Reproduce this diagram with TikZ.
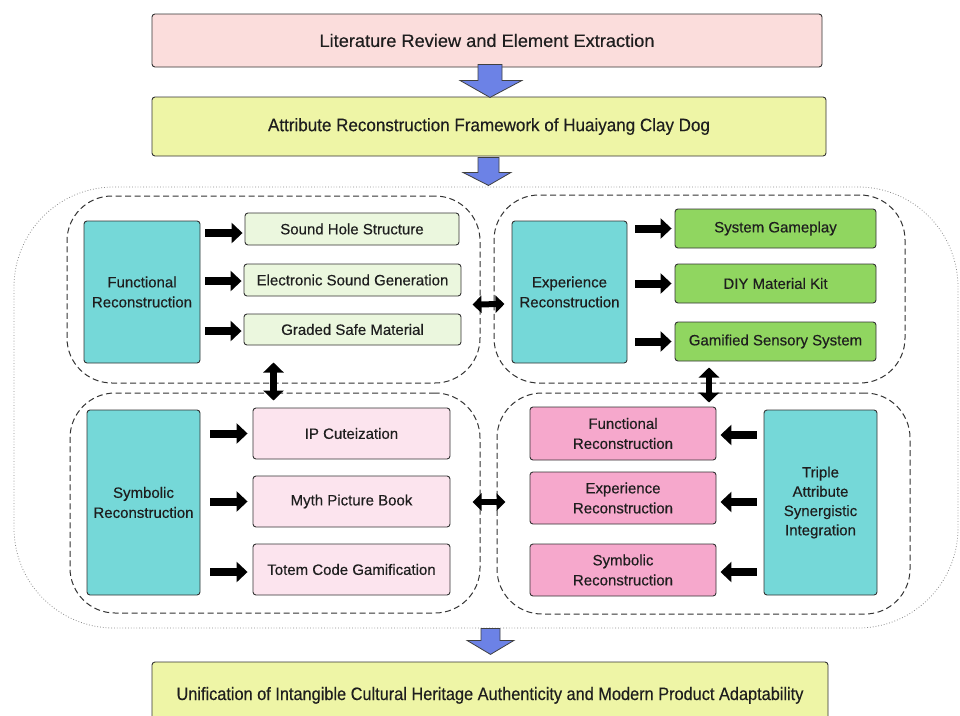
\documentclass[tikz,border=0pt]{standalone}
\usepackage{fontspec}
\setmainfont{Liberation Sans}[FakeBold=0.35]
\usetikzlibrary{arrows.meta,calc}
\definecolor{toppink}{HTML}{FBDDDC}
\definecolor{ylw}{HTML}{EEF5A6}
\definecolor{tealbox}{HTML}{75D8D8}
\definecolor{lgreen}{HTML}{EBF7DE}
\definecolor{greenbox}{HTML}{90D660}
\definecolor{lpink}{HTML}{FCE4EE}
\definecolor{pinkbox}{HTML}{F6A8CC}
\definecolor{bluearr}{HTML}{6C82E6}
\definecolor{edge}{HTML}{333333}
\definecolor{txt}{HTML}{1E1E1E}
\begin{document}
\begin{tikzpicture}[x=1pt,y=-1pt,
  box/.style={draw=edge, line width=0.9pt, rounded corners=3pt, inner sep=0pt, align=center, text=txt, font=\fontsize{15}{20}\selectfont},
  title/.style={box, font=\fontsize{18}{20}\selectfont},
  tealb/.style={box, fill=tealbox, font=\fontsize{15}{20}\selectfont},
  region/.style={draw=black!80, line width=1pt, dash pattern=on 6pt off 3.5pt, rounded corners=45pt, inner sep=0pt},
  outer/.style={draw=black!45, line width=0.8pt, dotted, rounded corners=100pt, inner sep=0pt},
  blk/.style={line width=8pt, -{Triangle[length=11pt,width=20pt]}, black},
  dbl/.style={line width=6pt, {Triangle[length=9pt,width=17pt]}-{Triangle[length=9pt,width=17pt]}, black},
  dblv/.style={line width=6.5pt, {Triangle[length=10pt,width=20pt]}-{Triangle[length=10pt,width=20pt]}, black},
  blueshape/.style={draw=black!75, line width=0.8pt, fill=bluearr, line join=miter}
]
\clip (0,0) rectangle (960,715);
\fill[white] (0,0) rectangle (960,715);

% titles
\node[title, fill=toppink, minimum width=670pt, minimum height=53pt] (top) at (487,40.5)
  {\resizebox{335pt}{\height}{Literature Review and Element Extraction}};
\node[title, fill=ylw, minimum width=674pt, minimum height=59pt] (mid) at (489,126.5)
  {\resizebox{442pt}{\height}{Attribute Reconstruction Framework of Huaiyang Clay Dog}};
\node[title, fill=ylw, minimum width=676pt, minimum height=70pt] (bot) at (490,697)
  {\raisebox{7pt}{\resizebox{627pt}{\height}{Unification of Intangible Cultural Heritage Authenticity and Modern Product Adaptability}}};

% outer dotted region and dashed regions
\node[outer, minimum width=944pt, minimum height=441pt] (OUT) at (486,407.5) {};
\node[region, minimum width=413pt, minimum height=187pt] (TL) at (273.5,289.5) {};
\node[region, minimum width=411pt, minimum height=188pt] (TR) at (699.5,289) {};
\node[region, minimum width=410pt, minimum height=220pt] (BL) at (275,503) {};
\node[region, minimum width=413pt, minimum height=221pt] (BR) at (703.5,503.5) {};

% blue arrows
\draw[blueshape] ($(top.south)+(-9,-3)$) -- ++(24,0) -- ++(0,16) -- ++(20,0) -- ++(-32,17) -- ++(-30,-17) -- ++(18,0) -- cycle;
\draw[blueshape] ($(mid.south)+(-11,1)$) -- ++(21,0) -- ++(0,15) -- ++(12,0) -- ++(-22.5,13) -- ++(-25.5,-13) -- ++(15,0) -- cycle;
\draw[blueshape] ($(OUT.south)+(-5,0)$) -- ++(19,0) -- ++(0,12) -- ++(14,0) -- ++(-23.5,14) -- ++(-23.5,-14) -- ++(14,0) -- cycle;

% top-left
\node[tealb, minimum width=116pt, minimum height=142pt] (func) at (142,292) {Functional\\Reconstruction};
\node[box, fill=lgreen, minimum width=214pt, minimum height=32pt] (sh) at (352,229) {Sound Hole Structure};
\node[box, fill=lgreen, minimum width=217pt, minimum height=32pt] (es) at (352.5,280) {Electronic Sound Generation};
\node[box, fill=lgreen, minimum width=217pt, minimum height=31pt] (gs) at (352.5,329.5) {Graded Safe Material};
\draw[blk, shorten <=5pt, shorten >=2pt] ($(func.east|-sh.west)+(0,4)$) -- ($(sh.west)+(0,4)$);
\draw[blk, shorten <=5pt, shorten >=2pt] ($(func.east|-es.west)+(0,1)$) -- ($(es.west)+(0,1)$);
\draw[blk, shorten <=5pt, shorten >=2pt] ($(func.east|-gs.west)+(0,1.5)$) -- ($(gs.west)+(0,1.5)$);

% top-right
\node[tealb, minimum width=115pt, minimum height=142pt] (exp) at (569.5,292) {Experience\\Reconstruction};
\node[box, fill=greenbox, minimum width=201pt, minimum height=39pt] (sg) at (775.5,228.5) {System Gameplay};
\node[box, fill=greenbox, minimum width=201pt, minimum height=39pt] (diy) at (775.5,283.5) {DIY Material Kit};
\node[box, fill=greenbox, minimum width=201pt, minimum height=39pt] (gss) at (775.5,341.5) {Gamified Sensory System};
\draw[blk, shorten <=8pt, shorten >=3pt] (exp.east|-sg.west) -- (sg.west);
\draw[blk, shorten <=8pt, shorten >=3pt] (exp.east|-diy.west) -- (diy.west);
\draw[blk, shorten <=8pt, shorten >=3pt] (exp.east|-gss.west) -- (gss.west);

% bottom-left
\node[tealb, minimum width=113pt, minimum height=185pt] (sym) at (143.5,502.5) {Symbolic\\Reconstruction};
\node[box, fill=lpink, minimum width=197pt, minimum height=51pt] (ip) at (351.5,433.5) {IP Cuteization};
\node[box, fill=lpink, minimum width=197pt, minimum height=51pt] (myth) at (351.5,501.5) {Myth Picture Book};
\node[box, fill=lpink, minimum width=197pt, minimum height=51pt] (totem) at (351.5,569.5) {Totem Code Gamification};
\draw[blk, shorten <=10pt, shorten >=5pt] (sym.east|-ip.west) -- (ip.west);
\draw[blk, shorten <=10pt, shorten >=5pt] (sym.east|-myth.west) -- (myth.west);
\draw[blk, shorten <=10pt, shorten >=5pt] ($(sym.east|-totem.west)+(0,2.5)$) -- ($(totem.west)+(0,2.5)$);

% bottom-right
\node[box, fill=pinkbox, minimum width=186pt, minimum height=53pt] (pf) at (623,433.5) {Functional\\Reconstruction};
\node[box, fill=pinkbox, minimum width=186pt, minimum height=52pt] (pe) at (623,498) {Experience\\Reconstruction};
\node[box, fill=pinkbox, minimum width=186pt, minimum height=52pt] (ps) at (623,570) {Symbolic\\Reconstruction};
\node[tealb, minimum width=113pt, minimum height=185pt, font=\fontsize{15}{19.3}\selectfont] (tri) at (820.5,502.5) {Triple\\Attribute\\Synergistic\\Integration};
\draw[blk, shorten <=7pt, shorten >=4pt] ($(tri.west|-pf.east)+(0,1.5)$) -- ($(pf.east)+(0,1.5)$);
\draw[blk, shorten <=7pt, shorten >=4pt] ($(tri.west|-pe.east)+(0,4)$) -- ($(pe.east)+(0,4)$);
\draw[blk, shorten <=7pt, shorten >=4pt] ($(tri.west|-ps.east)+(0,2)$) -- ($(ps.east)+(0,2)$);

% double arrows between regions
\draw[dbl] ($(TL.east)+(-8,15)$) -- ($(TR.west)+(11,15)$);
\draw[dbl] ($(BL.east)+(-8,-1)$) -- ($(BR.west)+(9,-1.5)$);
\draw[dblv] ($(TL.south)+(0,-21)$) -- ($(TL.south)+(0,17)$);
\draw[dblv] ($(TR.south)+(9.5,-16)$) -- ($(TR.south)+(9.5,19)$);
\end{tikzpicture}
\end{document}
